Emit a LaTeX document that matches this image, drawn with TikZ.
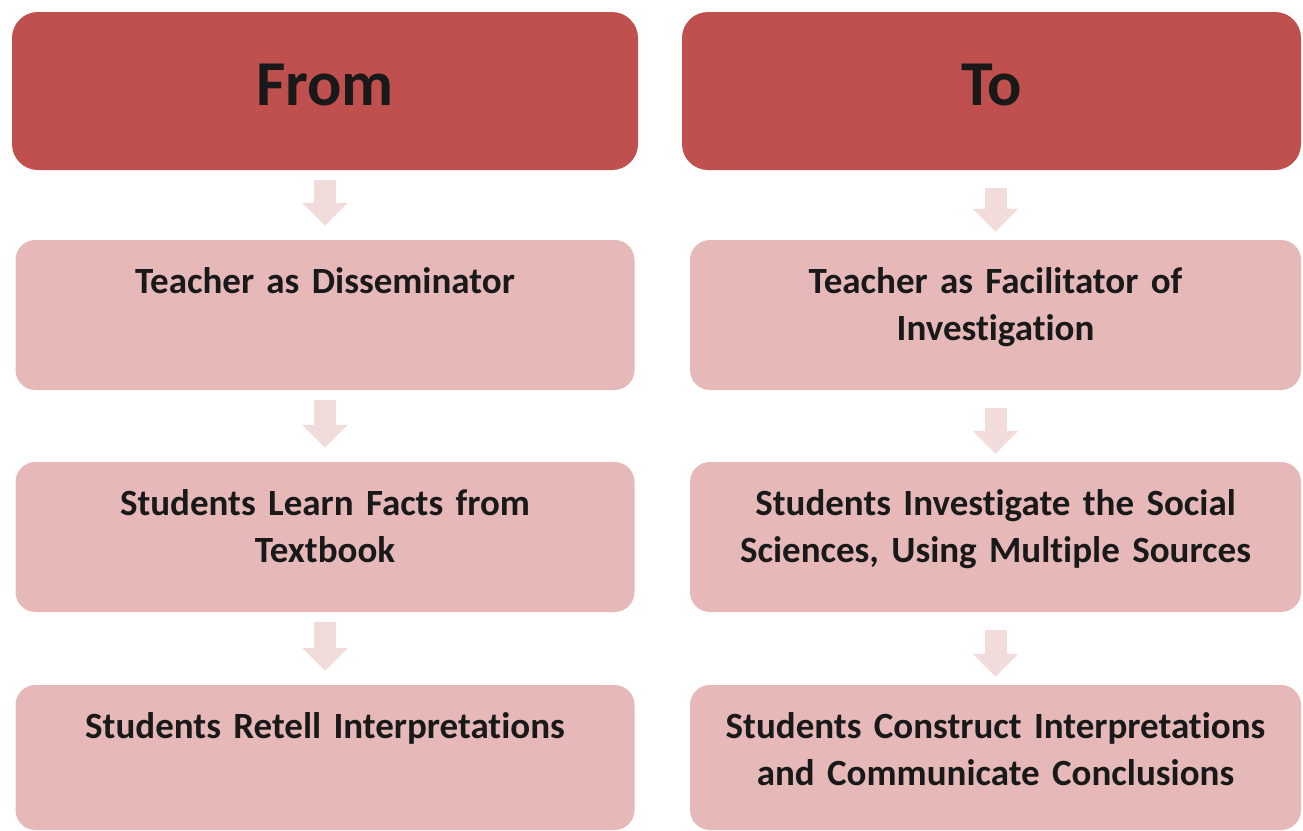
\documentclass[tikz,border=0pt]{standalone}
\usepackage{fontspec}
\setmainfont{Carlito}[Ligatures=NoCommon]
\usepackage{tikz}
\usetikzlibrary{positioning, arrows.meta}

\definecolor{hdrred}{HTML}{C0504D}
\definecolor{cellpink}{HTML}{E6B9B8}
\definecolor{arrowpink}{HTML}{F2DCDB}

\begin{document}
\begin{tikzpicture}[x=1pt,y=-1pt,
  header/.style={fill=hdrred, rounded corners=26pt, inner sep=0pt, minimum height=158pt,
    text=black!90, font=\fontsize{64}{70}\selectfont\bfseries, text height=42pt, text depth=14pt},
  cell/.style={fill=cellpink, rounded corners=20pt, inner sep=0pt, text width=590pt, align=center,
    text=black!90, font=\fontsize{37}{47}\selectfont\bfseries, text height=53pt, text depth=97pt},
  flow/.style={draw=arrowpink, line width=22pt, -{Triangle[width=44pt,length=23pt]},
    shorten <=10pt, shorten >=14pt},
  flowR/.style={flow, shorten <=18pt, shorten >=8pt}]
\useasboundingbox[fill=white] (0,0) rectangle (1303,830);
% The headers
\node (hdrL) at (325,91) [header, minimum width=626pt] {From};
\node (hdrR) at (991.5,91) [header, minimum width=619pt] {To};
% Left column
\node (fromA) at (325,315) [cell, minimum width=619pt] {Teacher as Disseminator};
\node (fromB) at (325,537) [cell, minimum width=619pt] {Students Learn Facts from\\ Textbook};
\node (fromC) at (325,757.5) [cell, minimum width=619pt, text depth=92pt] {Students Retell Interpretations};
% Right column
\node (toA) at (995.5,315) [cell, minimum width=611pt] {Teacher as Facilitator of\\ Investigation};
\node (toB) at (995.5,537) [cell, minimum width=611pt] {Students Investigate the Social\\ Sciences, Using Multiple Sources};
\node (toC) at (995.5,757.5) [cell, minimum width=611pt, text depth=92pt] {Students Construct Interpretations\\ and Communicate Conclusions};
% Arrows
\draw [flow] (hdrL) -- (fromA);
\draw [flow] (fromA) -- (fromB);
\draw [flow] (fromB) -- (fromC);
\draw [flowR] (toA.north |- hdrR.south) -- (toA.north);
\draw [flowR] (toA) -- (toB);
\draw [flowR] (toB) -- (toC);
\end{tikzpicture}
\end{document}
